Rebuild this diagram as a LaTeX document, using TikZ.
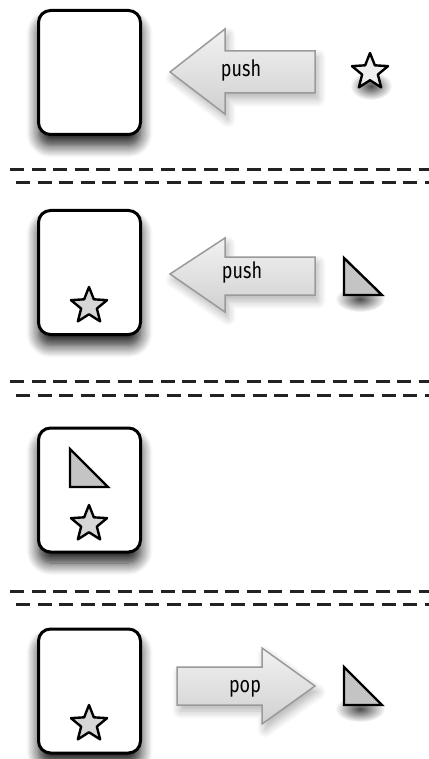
\documentclass[tikz,border=0pt]{standalone}
\usepackage{fontspec}
\usetikzlibrary{shapes.geometric,shadows.blur}
\newfontfamily\labfont[FakeStretch=0.8]{Fira Sans}
\definecolor{arrowline}{HTML}{9A9A9A}
\definecolor{arrowtop}{HTML}{F2F2F2}
\definecolor{arrowbot}{HTML}{D0D0D0}
\definecolor{starfill}{HTML}{D6D6D6}
\definecolor{starlight}{HTML}{EEEEEE}
\definecolor{trifill}{HTML}{C4C4C4}
\definecolor{dashcol}{HTML}{222222}
\tikzset{
  stackbox/.style={draw=black, line width=3pt, rounded corners=12pt, fill=white,
    minimum width=102pt, minimum height=124pt, inner sep=0pt,
    blur shadow={shadow xshift=0pt, shadow yshift=-11pt, shadow blur radius=12pt, shadow blur steps=10, shadow opacity=90}},
  starshape/.style={star, star points=5, star point ratio=2.3, minimum size=38pt,
    inner sep=0pt, draw=black, line width=2.4pt, line join=round, fill=starfill},
  trishape/.style={draw=black, line width=2.4pt, line join=miter, fill=trifill},
  softshadow/.style={inner color=black!70, outer color=white},
  bigarrow/.style={draw=arrowline, line width=1.5pt, line join=miter, top color=arrowtop, bottom color=arrowbot,
    blur shadow={shadow xshift=3pt, shadow yshift=-6pt, shadow blur radius=8pt, shadow blur steps=8, shadow opacity=30}},
  arrowlabel/.style={font=\labfont\fontsize{22.5}{24}\selectfont, anchor=base, inner sep=0pt, text=black},
  sepline/.style={draw=dashcol, line width=3pt, dash pattern=on 14pt off 7.5pt}
}
\begin{document}
\begin{tikzpicture}[x=1pt,y=-1pt]
\useasboundingbox (0,0) rectangle (428,759);
% separators
\foreach \ya/\yb in {170/183, 381/395, 591/604}{
  \draw[sepline] (10,\ya) -- (440,\ya);
  \draw[sepline] (16,\yb) -- (440,\yb);
}
% ---------- panel 1
\node[stackbox] (box1) at (89.5,72.5) {};
\draw[bigarrow] (170,72) -- (225,29) -- (225,51) -- (315,51) -- (315,93) -- (225,93) -- (225,114) -- cycle;
\node[arrowlabel] (push1) at (241,77) {push};
\shade[softshadow] (371,86) ellipse (21pt and 14pt);
\node[starshape, fill=starlight] (star1) at (370,72) {};
% ---------- panel 2
\node[stackbox] (box2) at (89.5,272.5) {};
\node[starshape] (star2) at (89,306) {};
\draw[bigarrow] (170,274) -- (225,238) -- (225,257) -- (315,257) -- (315,295) -- (225,295) -- (225,312) -- cycle;
\node[arrowlabel] (push2) at (242,278) {push};
\shade[softshadow] (360,299) ellipse (25pt and 13pt);
\draw[trishape] (344,258) coordinate (tri2a) -- (344,295) -- (382,295) -- cycle;
% ---------- panel 3
\node[stackbox] (box3) at (89.5,490) {};
\draw[trishape] (70,449) coordinate (tri3a) -- (70,487) -- (108,487) -- cycle;
\node[starshape] (star3) at (89,524) {};
% ---------- panel 4
\node[stackbox] (box4) at (89.5,691) {};
\node[starshape] (star4) at (89,724) {};
\draw[bigarrow] (315,686) -- (262,724) -- (262,705) -- (177,705) -- (177,667) -- (262,667) -- (262,648) -- cycle;
\node[arrowlabel] (pop) at (245,692) {pop};
\shade[softshadow] (360,709) ellipse (25pt and 13pt);
\draw[trishape] (344,667) coordinate (tri4a) -- (344,705) -- (382,705) -- cycle;
\end{tikzpicture}
\end{document}
